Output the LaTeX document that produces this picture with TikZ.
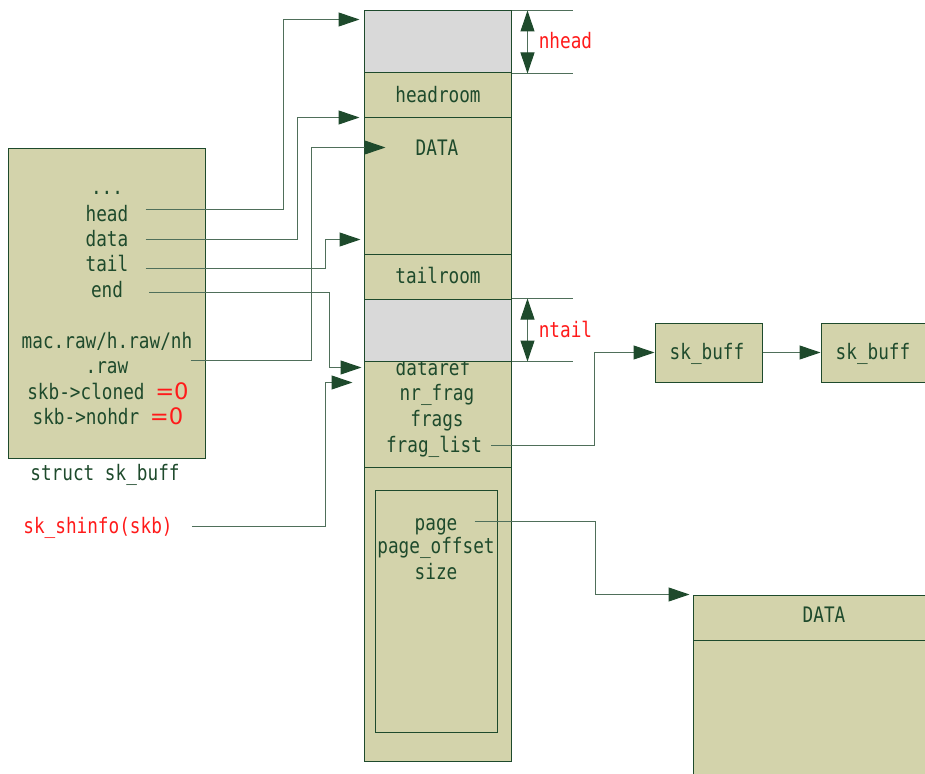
\documentclass[tikz,border=0pt]{standalone}
\usepackage{fontspec}
\setmainfont{DejaVu Sans}
\newfontfamily\skbmono[FakeStretch=0.83]{DejaVu Sans Mono}
\usetikzlibrary{arrows.meta,calc,fit}
\definecolor{memfill}{HTML}{D3D3AB}
\definecolor{memgrey}{HTML}{D9D9D9}
\definecolor{ink}{HTML}{1E4A2C}
\definecolor{wirec}{HTML}{4F6F5A}
\definecolor{hot}{HTML}{FF1A1A}

\begin{document}
\begin{tikzpicture}[
    x=0.75pt, y=-0.75pt,
    font=\skbmono\fontsize{16}{19}\selectfont,
    seg/.style={rectangle, draw=ink, fill=#1, line width=0.75pt, inner sep=0pt, text=ink},
    seg/.default=memfill,
    lbl/.style={anchor=base, inner sep=0pt, text=ink},
    redlbl/.style={anchor=base, inner sep=0pt, text=hot},
    wire/.style={line width=0.75pt, color=wirec},
    ptr/.style={wire, -{Triangle[length=15.75pt,width=10.5pt,color=ink]}},
    dim/.style={wire, {Triangle[length=15.75pt,width=10.5pt,color=ink]}-{Triangle[length=15.75pt,width=10.5pt,color=ink]}}
  ]
\useasboundingbox (0,0) rectangle (925,774);

% ---------------- struct sk_buff (left) ----------------
\node[seg, fit={(8,148) (205,458)}] (skb) {};
\foreach \n/\t/\y in {dots/{...}/194, hd/head/221, dt/data/246, tl/tail/271, en/end/297,
                      mac/{mac.raw/h.raw/nh}/348, rw/{.raw}/373}
  \node[lbl] (\n) at (107,\y) {\t};
\node[lbl] (cln) at (108,399) {skb->cloned {\color{hot}\rmfamily\fontsize{17}{19}\selectfont=0}};
\node[lbl] (nhr) at (108,424) {skb->nohdr {\color{hot}\rmfamily\fontsize{17}{19}\selectfont=0}};
\node[lbl] (skbname) at (105,480) {struct sk\_buff};
\node[redlbl] (shinfo) at (98,533) {sk\_shinfo(skb)};

% ---------------- data buffer (centre column) ----------------
\node[seg=memgrey, fit={(364,11) (511,73)}] (nhd) {};
\node[seg, fit={(364,73) (511,118)}] (hroom) {};
\node[lbl] (hrlbl) at (438,103) {headroom};
\node[seg, fit={(364,118) (511,254)}] (dat) {};
\node[lbl] (datlbl) at (437,155) {DATA};
\node[seg, fit={(364,254) (511,299)}] (troom) {};
\node[lbl] (trlbl) at (438,283) {tailroom};

% shared info, partly hidden under the ntail area
\node[seg, fit={(364,361) (511,467)}] (shi) {};
\node[lbl] (dref) at (433,375) {dataref};
\node[lbl] (nrf) at (437,400) {nr\_frag};
\node[lbl] (frs) at (437,426) {frags};
\node[lbl] (fl) at (434,452) {frag\_list};
\node[seg=memgrey, fit={(364,299) (511,361)}] (ntl) {};

\node[seg, fit={(364,467) (511,761)}] (frg) {};
\node[seg, fit={(375,490) (497,732)}] (fragin) {};
\node[lbl] (pg) at (436,530) {page};
\node[lbl] (pgo) at (436,553) {page\_offset};
\node[lbl] (sz) at (436,579) {size};

% ---------------- nhead / ntail ----------------
\foreach \b in {nhd,ntl} {
  \draw[wire] (\b.north east) -- ++(61,0);
  \draw[wire] (\b.south east) -- ++(61,0);
  \draw[dim] ($(\b.north east)+(16,0)$) -- ($(\b.south east)+(16,0)$);
}
\node[redlbl, anchor=base west] (nhdlbl) at ($(nhd.north east)+(27,38)$) {nhead};
\node[redlbl, anchor=base west] (ntllbl) at ($(ntl.north east)+(27,39)$) {ntail};

% ---------------- frag list and page ----------------
\node[seg, fit={(655,323) (762,382)}] (sb1) {};
\node[lbl] at (707,359) {sk\_buff};
\node[seg, fit={(821,323) (928,382)}] (sb2) {};
\node[lbl] at (873,359) {sk\_buff};
\node[seg, fit={(693,595) (955,640)}] (pdhead) {};
\node[lbl] at (824,622) {DATA};
\node[seg, fit={(693,640) (955,800)}] (pdbody) {};

% ---------------- pointer targets ----------------
\coordinate (tHead) at ($(nhd.north west)+(-4,9)$);
\coordinate (tData) at ($(dat.north west)+(-4,0)$);
\coordinate (tTail) at ($(dat.south west)+(-3,-15)$);
\coordinate (tEnd)  at ($(shi.north west)+(-2,7)$);
\coordinate (tMac)  at ($(dat.north west)+(22,30)$);
\coordinate (tInfo) at ($(shi.north west)+(-11,22)$);
\coordinate (tPage) at ($(pdhead.north west)+(-3,0)$);

% ---------------- pointers ----------------
\draw[ptr] ($(hd.east)+(17,-4)$) -| ($(tHead)+(-76,0)$) -- (tHead);
\draw[ptr] ($(dt.east)+(17,1)$)  -| ($(tData)+(-62,0)$) -- (tData);
\draw[ptr] ($(tl.east)+(17,6)$)  -| ($(tTail)+(-35,0)$) -- (tTail);
\draw[ptr] ($(en.east)+(26,3)$)  -| ($(tEnd)+(-32,0)$)  -- (tEnd);
\draw[ptr] ($(rw.east)+(62,-7)$) -| ($(tMac)+(-74,0)$)  -- (tMac);
\draw[ptr] ($(shinfo.east)+(19,-1)$) -| ($(tInfo)+(-27,0)$) -- (tInfo);
\draw[ptr] ($(fl.east)+(9,-1)$) -| ($(sb1.west)+(-60,0)$) -- (sb1.west);
\draw[ptr] (sb1.east) -- (sb2.west);
\draw[ptr] ($(pg.east)+(17,-5)$) -| ($(tPage)+(-94,0)$) -- (tPage);

\end{tikzpicture}
\end{document}
